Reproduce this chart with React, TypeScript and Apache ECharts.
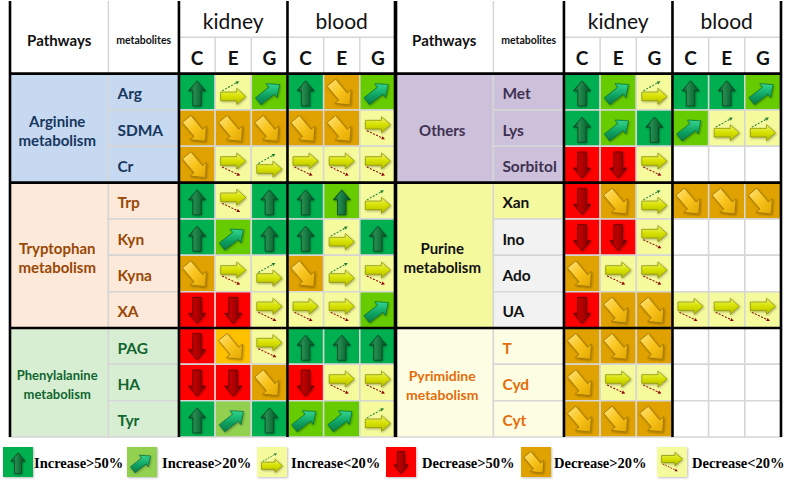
import React, { useEffect, useRef } from 'react';
import * as echarts from 'echarts';

// ---------------- data ----------------
const tissues = ['kidney', 'blood'];
const conditions = ['C', 'E', 'G'];

const leftPathways = ['Arginine\nmetabolism', 'Tryptophan\nmetabolism', 'Phenylalanine\nmetabolism'];
const leftPathwayRows = [3, 4, 3];
const leftMetabolites = ['Arg', 'SDMA', 'Cr', 'Trp', 'Kyn', 'Kyna', 'XA', 'PAG', 'HA', 'Tyr'];
// code = arrow category, optional ":shade" = background category
const leftChanges = [
  ['I50', 'I0', 'I20', 'I50', 'D20', 'I20'],
  ['D20', 'D20', 'D20', 'D20', 'D20', 'D0'],
  ['D20', 'D0', 'I0', 'D0', 'D0', 'D0'],
  ['I50', 'D0', 'I50', 'I50', 'I50:I20', 'I0'],
  ['I50', 'I20', 'I50', 'I50', 'I0', 'I50'],
  ['D20', 'D0', 'I0', 'D20', 'I0', 'D0'],
  ['D50', 'D50', 'D0', 'D0', 'D0', 'I20'],
  ['D50', 'D20:D20L', 'D0', 'I50', 'I50', 'I50'],
  ['D50', 'D50', 'D20', 'D50', 'D0', 'D0'],
  ['I50', 'I20:I20L', 'I50', 'I20', 'I20', 'I0'],
];

const rightPathways = ['Others', 'Purine\nmetabolism', 'Pyrimidine\nmetabolism'];
const rightPathwayRows = [3, 4, 3];
const rightMetabolites = ['Met', 'Lys', 'Sorbitol', 'Xan', 'Ino', 'Ado', 'UA', 'T', 'Cyd', 'Cyt'];
const rightChanges = [
  ['I50', 'I20', 'I0', 'I50', 'I50', 'I20'],
  ['I50', 'I20', 'I50', 'I20', 'I0', 'I0'],
  ['D50', 'D50', 'D0', '', '', ''],
  ['D50', 'D20', 'I0', 'D20', 'D20', 'D20'],
  ['D50', 'D50', 'D0', '', '', ''],
  ['D20', 'D0', 'D0', '', '', ''],
  ['D50', 'D20', 'D20', 'D0', 'D0', 'D0'],
  ['D20', 'D20', 'D20', '', '', ''],
  ['D20', 'D0', 'D0', '', '', ''],
  ['D20', 'D20', 'D20', '', '', ''],
];

const legendCodes = ['I50', 'I20', 'I0', 'D50', 'D20', 'D0'];
const legendLabels = ['Increase>50%', 'Increase>20%', 'Increase<20%', 'Decrease>50%', 'Decrease>20%', 'Decrease<20%'];

// ---------------- styles ----------------
const FONT = 'Lato, "Open Sans", "Noto Sans", sans-serif';
const SERIF = '"Liberation Serif", "Times New Roman", serif';
const GRID_LINE = '#d6d6d6';

const cellColor: Record<string, string> = {
  I50: '#00B050', I20: '#66CC00', I20L: '#92D050', I0: '#F5FA9C',
  D50: '#FF0000', D20: '#E0A200', D20L: '#FFC000', D0: '#F5FA9C',
};
const legendColor: Record<string, string> = { ...cellColor, I20: '#92D050' };

const pathwayLook: Record<string, { bg: string; fg: string; size: number }> = {
  'Arginine\nmetabolism': { bg: '#C6D9F1', fg: '#17375E', size: 15 },
  'Tryptophan\nmetabolism': { bg: '#FDE9D9', fg: '#984807', size: 15 },
  'Phenylalanine\nmetabolism': { bg: '#D7EED3', fg: '#11652F', size: 13 },
  'Others': { bg: '#CCC0DA', fg: '#3F3151', size: 15 },
  'Purine\nmetabolism': { bg: '#F4F99E', fg: '#111111', size: 15 },
  'Pyrimidine\nmetabolism': { bg: '#FDFDE3', fg: '#E46C0A', size: 14 },
};
const metaboliteBg: Record<string, string> = { Ino: '#F2F2F2', Ado: '#F2F2F2', UA: '#F2F2F2' };

const XMIN = -4.67;
const XMET = -1.95;

// ---------------- drawing helpers ----------------
function arrowPts(cx: number, cy: number, ang: number, L: number, a: number, b: number, hl: number) {
  const t = (ang * Math.PI) / 180;
  const c = Math.cos(t);
  const s = Math.sin(t);
  const raw = [
    [-L / 2, -a], [L / 2 - hl, -a], [L / 2 - hl, -b], [L / 2, 0],
    [L / 2 - hl, b], [L / 2 - hl, a], [-L / 2, a],
  ];
  return raw.map(([u, v]) => [cx + u * c - v * s, cy + u * s + v * c]);
}

function lg(x: number, y: number, x2: number, y2: number, stops: string[]) {
  return new echarts.graphic.LinearGradient(
    x, y, x2, y2,
    stops.map((c, i) => ({ offset: i / (stops.length - 1), color: c }))
  );
}

function dashed(x0: number, y0: number, x1: number, y1: number, color: string, k: number) {
  const ang = Math.atan2(y1 - y0, x1 - x0);
  const hs = 3.4 * k;
  const ca = Math.cos(ang);
  const sa = Math.sin(ang);
  const head = [
    [x1, y1],
    [x1 - hs * ca + hs * 0.5 * sa, y1 - hs * sa - hs * 0.5 * ca],
    [x1 - hs * ca - hs * 0.5 * sa, y1 - hs * sa + hs * 0.5 * ca],
  ];
  return [
    {
      type: 'line',
      shape: { x1: x0, y1: y0, x2: x1 - hs * 0.8 * ca, y2: y1 - hs * 0.8 * sa },
      style: { stroke: color, lineWidth: Math.max(0.8, 1 * k), lineDash: [2 * k, 1.4 * k], fill: null },
    },
    { type: 'polygon', shape: { points: head }, style: { fill: color } },
  ];
}

function arrowEls(code: string, x: number, y: number, size: number): any[] {
  const k = size / 36;
  const shadow = { shadowBlur: 2 * k, shadowColor: 'rgba(0,0,0,0.35)', shadowOffsetX: 0.8 * k, shadowOffsetY: 1 * k };
  if (code === 'I50') {
    return [{
      type: 'polygon',
      shape: { points: arrowPts(x + 18 * k, y + 19.5 * k, -90, 25 * k, 4.2 * k, 8.5 * k, 10 * k) },
      style: { fill: lg(0, 0, 1, 0, ['#0a5129', '#268c50', '#11703a', '#0a4f28']), stroke: '#053a1c', lineWidth: 0.7, ...shadow },
    }];
  }
  if (code === 'D50') {
    return [{
      type: 'polygon',
      shape: { points: arrowPts(x + 18 * k, y + 18.5 * k, 90, 26 * k, 4.3 * k, 8.5 * k, 10 * k) },
      style: { fill: lg(0, 0, 1, 0, ['#6e0000', '#c00000', '#a30000', '#6a0000']), stroke: '#560000', lineWidth: 0.7, ...shadow },
    }];
  }
  if (code === 'I20') {
    return [{
      type: 'polygon',
      shape: { points: arrowPts(x + 17.5 * k, y + 19 * k, -38, 27 * k, 4.4 * k, 8.8 * k, 10 * k) },
      style: { fill: lg(0, 0, 0, 1, ['#34d690', '#12a866', '#0a7a47']), stroke: '#06663a', lineWidth: 0.7, ...shadow },
    }];
  }
  if (code === 'D20') {
    return [{
      type: 'polygon',
      shape: { points: arrowPts(x + 17 * k, y + 20 * k, 50, 29 * k, 5.5 * k, 10.5 * k, 11 * k) },
      style: { fill: lg(0, 0, 1, 1, ['#ffe37e', '#f9c41c', '#e2a600']), stroke: '#9c7200', lineWidth: 0.8, ...shadow },
    }];
  }
  if (code === 'I0' || code === 'D0') {
    const inc = code === 'I0';
    const cy = inc ? 22.5 : 14.5;
    const els: any[] = [{
      type: 'polygon',
      shape: { points: arrowPts(x + 18 * k, y + cy * k, 0, 25 * k, 4.3 * k, 8 * k, 9 * k) },
      style: { fill: lg(0, 0, 0, 1, ['#f0f66a', '#d6e000', '#b3bc00']), stroke: '#858d00', lineWidth: 0.7, ...shadow },
    }];
    if (inc) {
      els.push(...dashed(x + 7 * k, y + 17 * k, x + 24 * k, y + 7.5 * k, '#1a7a30', k));
    } else {
      els.push(...dashed(x + 7 * k, y + 20.5 * k, x + 25 * k, y + 29 * k, '#8b0000', k));
    }
    return els;
  }
  return [];
}

function textStyle(text: string, x: number, y: number, font: string, fill: string, align: string, extra: any = {}) {
  return {
    text, x, y, font, fill,
    align, textAlign: align,
    verticalAlign: 'middle', textVerticalAlign: 'middle',
    ...extra,
  };
}

// ---------------- specs ----------------
type Spec = {
  x0: number; y0: number; x1: number; y1: number;
  kind: string; code?: string; text?: string; fg?: string; bg?: string;
  font?: string; dy?: number; thick?: boolean;
};

function buildSpecs(pathways: string[], rows: number[], metabolites: string[], changes: string[][]): Spec[] {
  const specs: Spec[] = [];
  specs.push({ x0: XMIN, y0: -2, x1: XMET, y1: 0, kind: 'text', text: 'Pathways', font: `bold 15px ${FONT}`, fg: '#111', dy: 3 });
  specs.push({ x0: XMET, y0: -2, x1: 0, y1: 0, kind: 'text', text: 'metabolites', font: `bold 10.5px ${FONT}`, fg: '#111', dy: 3 });
  tissues.forEach((t, ti) => {
    specs.push({ x0: ti * 3, y0: -2, x1: ti * 3 + 3, y1: -1, kind: 'text', text: t, font: `21px ${FONT}`, fg: '#111', dy: 1 });
    conditions.forEach((c, ci) => {
      specs.push({ x0: ti * 3 + ci, y0: -1, x1: ti * 3 + ci + 1, y1: 0, kind: 'text', text: c, font: `bold 19px ${FONT}`, fg: '#111', dy: 2 });
    });
  });
  let r0 = 0;
  pathways.forEach((p, pi) => {
    const look = pathwayLook[p];
    specs.push({ x0: XMIN, y0: r0, x1: XMET, y1: r0 + rows[pi], kind: 'pathway', text: p, bg: look.bg, fg: look.fg, font: `bold ${look.size}px ${FONT}` });
    for (let r = r0; r < r0 + rows[pi]; r++) {
      const m = metabolites[r];
      specs.push({ x0: XMET, y0: r, x1: 0, y1: r + 1, kind: 'metabolite', text: m, bg: metaboliteBg[m] || look.bg, fg: look.fg, font: `bold 15.5px ${FONT}` });
    }
    r0 += rows[pi];
  });
  changes.forEach((row, r) => row.forEach((code, c) => {
    specs.push({ x0: c, y0: r, x1: c + 1, y1: r + 1, kind: 'change', code });
  }));
  // thin header lines
  specs.push({ x0: XMET, y0: -2, x1: XMET, y1: 0, kind: 'line' });
  specs.push({ x0: 0, y0: -1, x1: 6, y1: -1, kind: 'line' });
  [1, 2, 4, 5].forEach((xv) => specs.push({ x0: xv, y0: -1, x1: xv, y1: 0, kind: 'line' }));
  // thick frame lines
  [XMIN, 0, 3, 6].forEach((xv) => specs.push({ x0: xv, y0: -2, x1: xv, y1: 10, kind: 'line', thick: true }));
  let acc = 0;
  [0, ...rows.slice(0, -1)].forEach((n) => {
    acc += n;
    specs.push({ x0: XMIN, y0: acc, x1: 6, y1: acc, kind: 'line', thick: true });
  });
  return specs;
}

function makeSeries(specs: Spec[], idx: number) {
  return {
    type: 'custom',
    xAxisIndex: idx,
    yAxisIndex: idx,
    silent: true,
    clip: false,
    data: specs.map((s) => [s.x0, s.y0, s.x1, s.y1]),
    encode: { x: [0, 2], y: [1, 3] },
    renderItem: (params: any, api: any) => {
      const s = specs[params.dataIndex];
      const p0 = api.coord([api.value(0), api.value(1)]);
      const p1 = api.coord([api.value(2), api.value(3)]);
      const x = p0[0];
      const y = p0[1];
      const w = p1[0] - p0[0];
      const h = p1[1] - p0[1];
      if (s.kind === 'line') {
        return {
          type: 'line',
          z2: s.thick ? 20 : 10,
          shape: { x1: p0[0], y1: p0[1], x2: p1[0], y2: p1[1] },
          style: { stroke: s.thick ? '#000' : GRID_LINE, lineWidth: s.thick ? 2.6 : 1.5 },
        };
      }
      if (s.kind === 'text') {
        return {
          type: 'text',
          style: textStyle(s.text!, x + w / 2, y + h / 2 + (s.dy || 0), s.font!, s.fg!, 'center'),
        };
      }
      if (s.kind === 'pathway') {
        return {
          type: 'group',
          children: [
            { type: 'rect', shape: { x, y, width: w, height: h }, style: { fill: s.bg, stroke: GRID_LINE, lineWidth: 1.5 } },
            { type: 'text', style: textStyle(s.text!, x + w / 2 - 2, y + h / 2 + 2, s.font!, s.fg!, 'center', { lineHeight: 19 }) },
          ],
        };
      }
      if (s.kind === 'metabolite') {
        return {
          type: 'group',
          children: [
            { type: 'rect', shape: { x, y, width: w, height: h }, style: { fill: s.bg, stroke: GRID_LINE, lineWidth: 1.5 } },
            { type: 'text', style: textStyle(s.text!, x + 9, y + h / 2 + 1.5, s.font!, s.fg!, 'left') },
          ],
        };
      }
      // change cell
      const [arrow, shade] = (s.code || '').split(':');
      const bg = arrow ? cellColor[shade || arrow] : '#ffffff';
      const size = Math.min(w, h);
      return {
        type: 'group',
        children: [
          { type: 'rect', shape: { x, y, width: w, height: h }, style: { fill: bg, stroke: GRID_LINE, lineWidth: 1.5 } },
          ...arrowEls(arrow, x + (w - size) / 2, y + (h - size) / 2, size),
        ],
      };
    },
  };
}

function buildOption() {
  const leftSpecs = buildSpecs(leftPathways, leftPathwayRows, leftMetabolites, leftChanges);
  const rightSpecs = buildSpecs(rightPathways, rightPathwayRows, rightMetabolites, rightChanges);
  const boxX = [3, 127, 257, 386, 521, 657];
  const textX = [34, 162, 291, 422, 554, 692];
  const legendEls: any[] = [];
  legendCodes.forEach((code, i) => {
    legendEls.push({
      type: 'rect',
      shape: { x: boxX[i], y: 447, width: 30, height: 30 },
      style: { fill: legendColor[code], shadowBlur: 2, shadowColor: 'rgba(0,0,0,0.25)', shadowOffsetX: 1, shadowOffsetY: 1 },
    });
    legendEls.push(...arrowEls(code, boxX[i], 447, 30));
    legendEls.push({
      type: 'text',
      style: textStyle(legendLabels[i], textX[i], 463, `bold 14.5px ${SERIF}`, '#000', 'left'),
    });
  });
  return {
    animation: false,
    backgroundColor: '#ffffff',
    grid: [
      { left: 10, top: 1, width: 386, height: 436 },
      { left: 395, top: 1, width: 386, height: 436 },
    ],
    xAxis: [0, 1].map((i) => ({ type: 'value', gridIndex: i, min: XMIN, max: 6, show: false })),
    yAxis: [0, 1].map((i) => ({ type: 'value', gridIndex: i, min: -2, max: 10, inverse: true, show: false })),
    series: [makeSeries(leftSpecs, 0), makeSeries(rightSpecs, 1)],
    graphic: { elements: legendEls },
  };
}

export default function App() {
  const ref = useRef<HTMLDivElement>(null);
  useEffect(() => {
    if (!ref.current) return;
    const chart = echarts.init(ref.current, null, { renderer: 'svg' });
    chart.setOption(buildOption() as any);
    return () => chart.dispose();
  }, []);
  return (
    <div
      ref={ref}
      style={{ position: 'fixed', left: 0, top: 0, width: 787, height: 483, background: '#fff' }}
    />
  );
}
